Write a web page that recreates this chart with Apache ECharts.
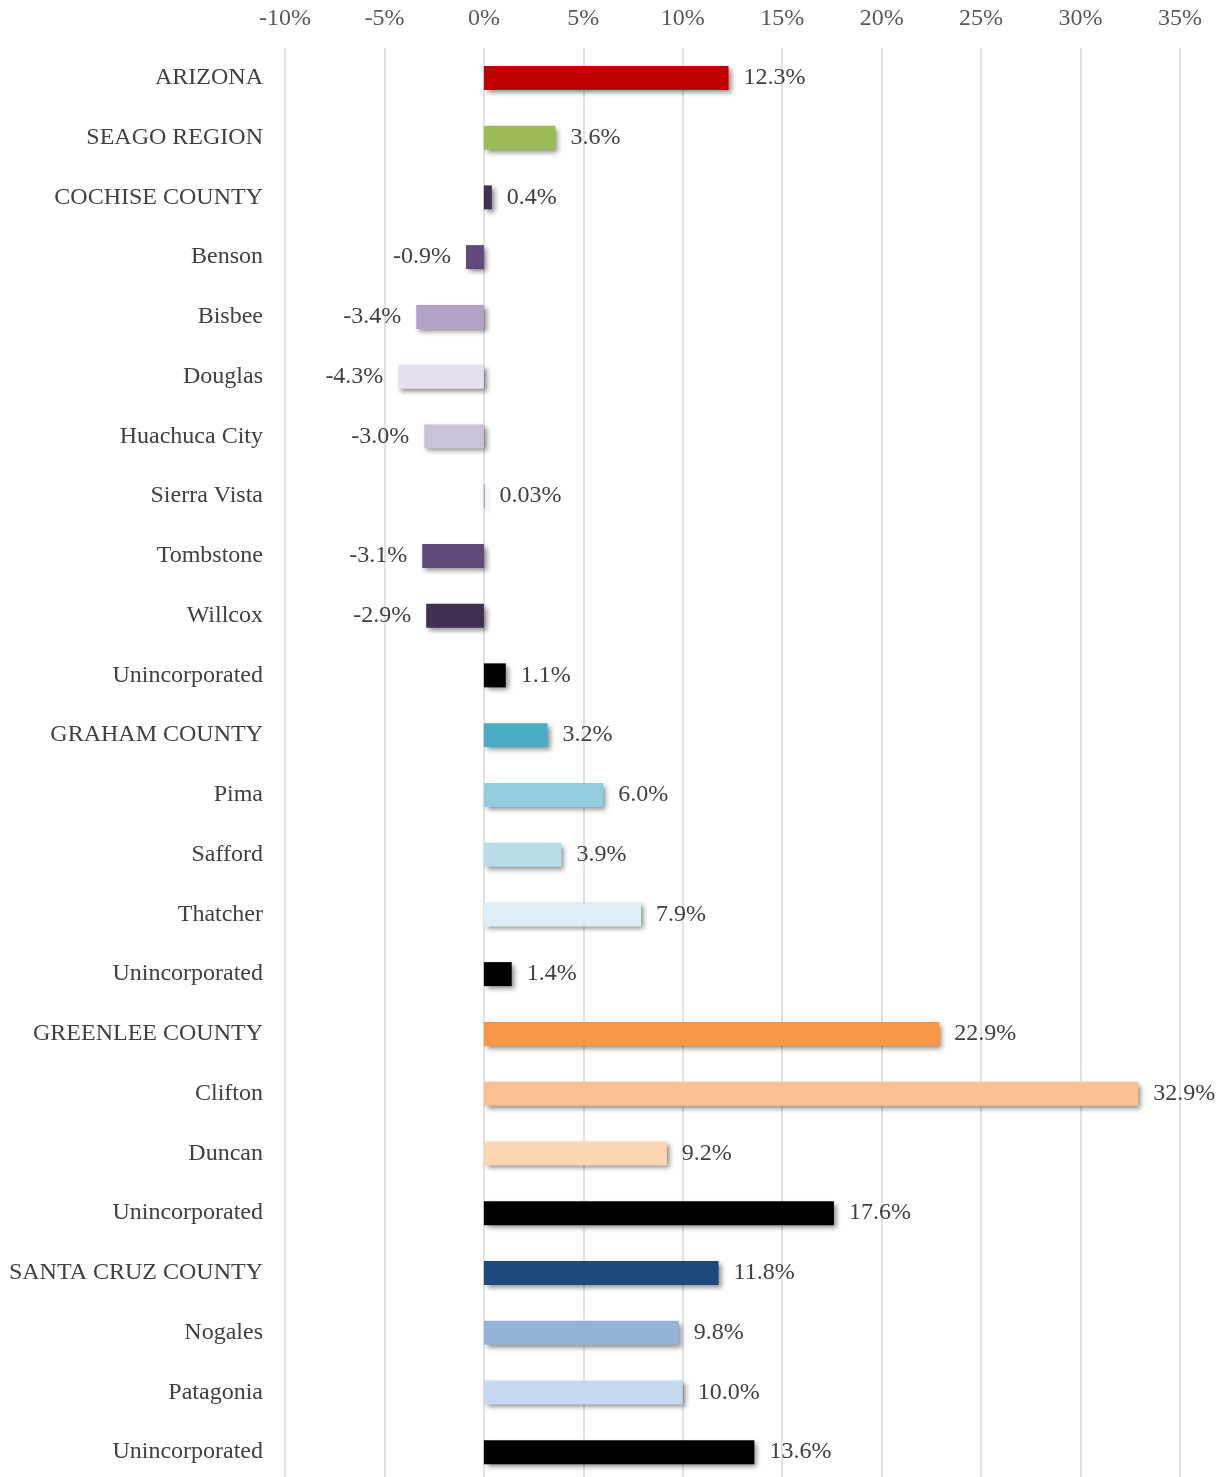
<!DOCTYPE html>
<html>
<head>
<meta charset="utf-8">
<script src="https://cdn.jsdelivr.net/npm/echarts@6/dist/echarts.min.js"></script>
<style>
  html, body { margin: 0; padding: 0; background: #fff; overflow: hidden; }
  #chart { width: 1229px; height: 1482px; }
</style>
</head>
<body>
<div id="chart"></div>
<script>
// population change by place
const places = [
    'ARIZONA', 'SEAGO REGION', 'COCHISE COUNTY', 'Benson', 'Bisbee', 'Douglas',
    'Huachuca City', 'Sierra Vista', 'Tombstone', 'Willcox', 'Unincorporated',
    'GRAHAM COUNTY', 'Pima', 'Safford', 'Thatcher', 'Unincorporated',
    'GREENLEE COUNTY', 'Clifton', 'Duncan', 'Unincorporated',
    'SANTA CRUZ COUNTY', 'Nogales', 'Patagonia', 'Unincorporated'
];
const change = [
    12.3, 3.6, 0.4, -0.9, -3.4, -4.3,
    -3.0, 0.03, -3.1, -2.9, 1.1,
    3.2, 6.0, 3.9, 7.9, 1.4,
    22.9, 32.9, 9.2, 17.6,
    11.8, 9.8, 10.0, 13.6
];
const barColors = [
    '#C00000', '#9BBB59', '#403152', '#604A7B', '#B3A2C7', '#E6E0EC',
    '#CCC1DA', '#8064A2', '#5F497A', '#403152', '#000000',
    '#4BACC6', '#93CDDD', '#B7DEE8', '#DBEEF4', '#000000',
    '#F79646', '#FAC090', '#FCD5B5', '#000000',
    '#1F497D', '#95B3D7', '#C6D9F1', '#000000'
];

const font = '"Liberation Serif", "Times New Roman", serif';
const textColor = '#404040';

const chart = echarts.init(document.getElementById('chart'));

const fmt = (v) => (Math.abs(v) < 0.1 ? v.toFixed(2) : v.toFixed(1)) + '%';

chart.setOption({
    animation: false,
    grid: { left: 285, right: 49, top: 48, bottom: 0, containLabel: false },
    xAxis: {
        type: 'value',
        position: 'top',
        min: -10,
        max: 35,
        interval: 5,
        axisLine: { show: false },
        axisTick: { show: false },
        splitLine: { lineStyle: { color: '#d9d9d9', width: 1.5 } },
        axisLabel: {
            formatter: '{value}%',
            color: '#595959',
            fontFamily: font,
            fontSize: 24,
            margin: 17
        }
    },
    yAxis: {
        type: 'category',
        inverse: true,
        data: places,
        axisLine: { show: false },
        axisTick: { show: false },
        axisLabel: {
            color: textColor,
            fontFamily: font,
            fontSize: 24,
            margin: 22
        }
    },
    series: [{
        type: 'bar',
        barWidth: 24,
        data: change.map((v, i) => ({
            value: v,
            itemStyle: { color: barColors[i] },
            label: { position: v < 0 ? 'left' : 'right' }
        })),
        itemStyle: {
            shadowColor: 'rgba(0,0,0,0.45)',
            shadowBlur: 5,
            shadowOffsetX: 3,
            shadowOffsetY: 3
        },
        label: {
            show: true,
            distance: 15,
            color: textColor,
            fontFamily: font,
            fontSize: 24,
            formatter: (p) => fmt(p.value)
        }
    }]
});
</script>
</body>
</html>
